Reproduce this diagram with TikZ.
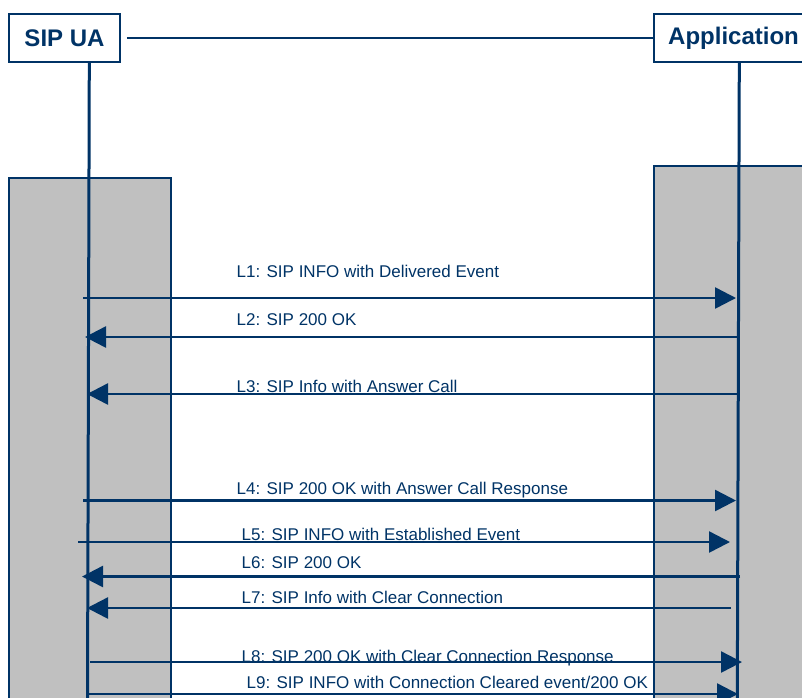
\documentclass[tikz,border=0pt]{standalone}
\usepackage{fontspec}
\setmainfont{Liberation Sans}
\usepackage{tikz}
\usetikzlibrary{arrows.meta}
\definecolor{sipblue}{RGB}{0,51,102}
\definecolor{sipgray}{RGB}{192,192,192}
\tikzstyle{entity}=[draw=sipblue, line width=1.8pt, fill=white, text=sipblue, font=\fontsize{24}{26}\selectfont\bfseries, inner sep=0pt, minimum height=48pt]
\tikzstyle{lifeline}=[draw=sipblue, line width=3pt]
\tikzstyle{activity}=[draw=sipblue, line width=2pt, fill=sipgray]
\tikzstyle{msg}=[draw=sipblue, line width=2.5pt, -{Triangle[length=21pt,width=21pt]}, sipblue]
\tikzstyle{msglabel}=[anchor=base west, inner sep=0pt, text=sipblue, font=\fontsize{17}{19}\selectfont]

\begin{document}
\begin{tikzpicture}[x=1pt, y=-1pt]
        \useasboundingbox (0,0) rectangle (802,697);
        \clip (0,0) rectangle (802,697);
        % activity bars
        \draw[activity] (9,178) rectangle (170.5,705);
        \draw[activity] (653.5,166) rectangle (812,705);
        % entities
        \node[entity, minimum width=111pt] (sipua) at (64.5,38) {SIP UA};
        \node[entity, minimum width=159pt] (app) at (733.5,38) {Application};
        \draw[draw=sipblue, line width=2pt, shorten <=6pt] (sipua.east) -- (app.west);
        % lifelines
        \coordinate (uatop) at (89.3,62);
        \coordinate (uabot) at (87.5,700);
        \coordinate (apptop) at (739.3,62);
        \coordinate (appbot) at (737.3,700);
        \draw[lifeline] (uatop) -- (uabot);
        \draw[lifeline] (apptop) -- (appbot);
        % message ends
        \coordinate (u1) at (83,298);    \coordinate (a1) at (736,298);
        \coordinate (u2) at (85,337);    \coordinate (a2) at (738,337);
        \coordinate (u3) at (87,394);    \coordinate (a3) at (738,394);
        \coordinate (u4) at (83,500.5);  \coordinate (a4) at (736,500.5);
        \coordinate (u5) at (78,542);    \coordinate (a5) at (730,542);
        \coordinate (u6) at (82,576.5);  \coordinate (a6) at (740,576.5);
        \coordinate (u7) at (87,608);    \coordinate (a7) at (731,608);
        \coordinate (u8) at (90,662);    \coordinate (a8) at (742,662);
        \coordinate (u9) at (89,694);    \coordinate (a9) at (738,694);
        % messages
        \draw[msg] (u1) -- (a1);
        \draw[msg] (a2) -- (u2);
        \draw[msg] (a3) -- (u3);
        \draw[msg] (u4) -- (a4);
        \draw[msg] (u5) -- (a5);
        \draw[msg] (a6) -- (u6);
        \draw[msg] (a7) -- (u7);
        \draw[msg] (u8) -- (a8);
        \draw[msg] (u9) -- (a9);
        % labels
        \node[msglabel] (l1) at (236.5,277.5) {L1: SIP INFO with Delivered Event};
        \node[msglabel] (l2) at (236.5,325) {L2: SIP 200 OK};
        \node[msglabel] (l3) at (236.5,392) {L3: SIP Info with Answer Call};
        \node[msglabel] (l4) at (236.5,494) {L4: SIP 200 OK with Answer Call Response};
        \node[msglabel] (l5) at (241.5,540) {L5: SIP INFO with Established Event};
        \node[msglabel] (l6) at (241.5,568) {L6: SIP 200 OK};
        \node[msglabel] (l7) at (241.5,603) {L7: SIP Info with Clear Connection};
        \node[msglabel] (l8) at (241.5,662) {L8: SIP 200 OK with Clear Connection Response};
        \node[msglabel] (l9) at (246.5,688) {L9: SIP INFO with Connection Cleared event/200 OK};
    \end{tikzpicture}
\end{document}
